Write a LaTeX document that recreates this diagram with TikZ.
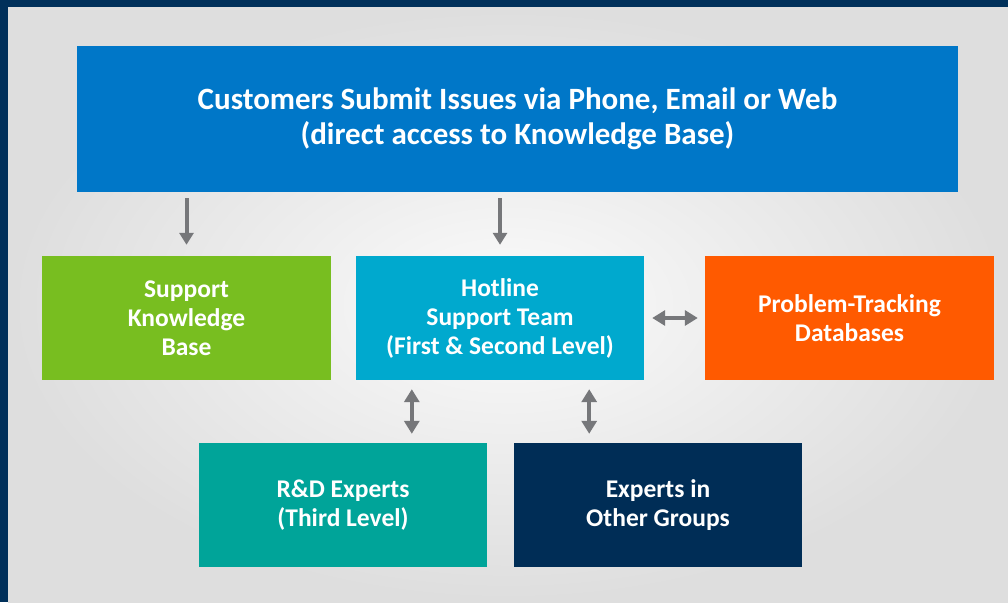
\documentclass[tikz,border=0pt]{standalone}
\usepackage{fontspec}
\setmainfont{Carlito}
\usetikzlibrary{arrows.meta}
\usetikzlibrary{calc}

\definecolor{framenavy}{RGB}{0,48,90}
\definecolor{topblue}{RGB}{0,119,200}
\definecolor{kbgreen}{RGB}{120,190,32}
\definecolor{hotcyan}{RGB}{0,169,206}
\definecolor{dborange}{RGB}{255,90,0}
\definecolor{rdteal}{RGB}{0,164,153}
\definecolor{grpnavy}{RGB}{0,45,86}
\definecolor{arrowgray}{RGB}{118,119,122}

\tikzset{
    box/.style={minimum width=289pt, minimum height=124pt, inner sep=0pt,
        text=white, align=center, font=\bfseries\fontsize{25.5}{29}\selectfont},
    flow/.style={draw=arrowgray, line width=4pt,
        -{Triangle[width=14pt,length=12pt]}},
    both/.style={draw=arrowgray, line width=4pt,
        {Triangle[width=15pt,length=13pt]}-{Triangle[width=15pt,length=13pt]}},
}

\begin{document}
\begin{tikzpicture}[x=1pt,y=1pt]
    % frame and soft grey backdrop
    \fill[framenavy] (0,0) rectangle (1008,602);
    \shade[inner color=white!97!gray, outer color=black!13] (8,0) rectangle (1008,594);
    \useasboundingbox (0,0) rectangle (1008,602);

    % boxes
    \node[box, fill=topblue, minimum width=881pt, minimum height=146pt,
        font=\bfseries\fontsize{31}{35}\selectfont] (top) at (517.5,483)
        {Customers Submit Issues via Phone, Email or Web\\(direct access to Knowledge Base)};
    \node[box, fill=kbgreen] (kb) at (186.5,284) {Support\\Knowledge\\Base};
    \node[box, fill=hotcyan, minimum width=288pt] (hotline) at (500,284)
        {Hotline\\Support Team\\(First \& Second Level)};
    \node[box, fill=dborange] (db) at (849.5,284) {Problem-Tracking\\Databases};
    \node[box, fill=rdteal, minimum width=288pt] (rd) at (343,97) {R\&D Experts\\(Third Level)};
    \node[box, fill=grpnavy, minimum width=288pt] (groups) at (658,97) {Experts in\\Other Groups};

    % connectors
    \draw[flow] ($(kb.north |- top.south)+(0,-6)$) -- ($(kb.north)+(0,11)$);
    \draw[flow] ($(hotline.north |- top.south)+(0,-6)$) -- ($(hotline.north)+(0,11)$);
    \draw[both] ($(hotline.east)+(8,0)$) -- ($(db.west)+(-7,0)$);
    \draw[both] ($(hotline.south west)+(56,-9)$) -- ($(hotline.south west |- rd.north)+(56,9)$);
    \draw[both] ($(hotline.south east)+(-55,-9)$) -- ($(hotline.south east |- groups.north)+(-55,9)$);
\end{tikzpicture}
\end{document}
